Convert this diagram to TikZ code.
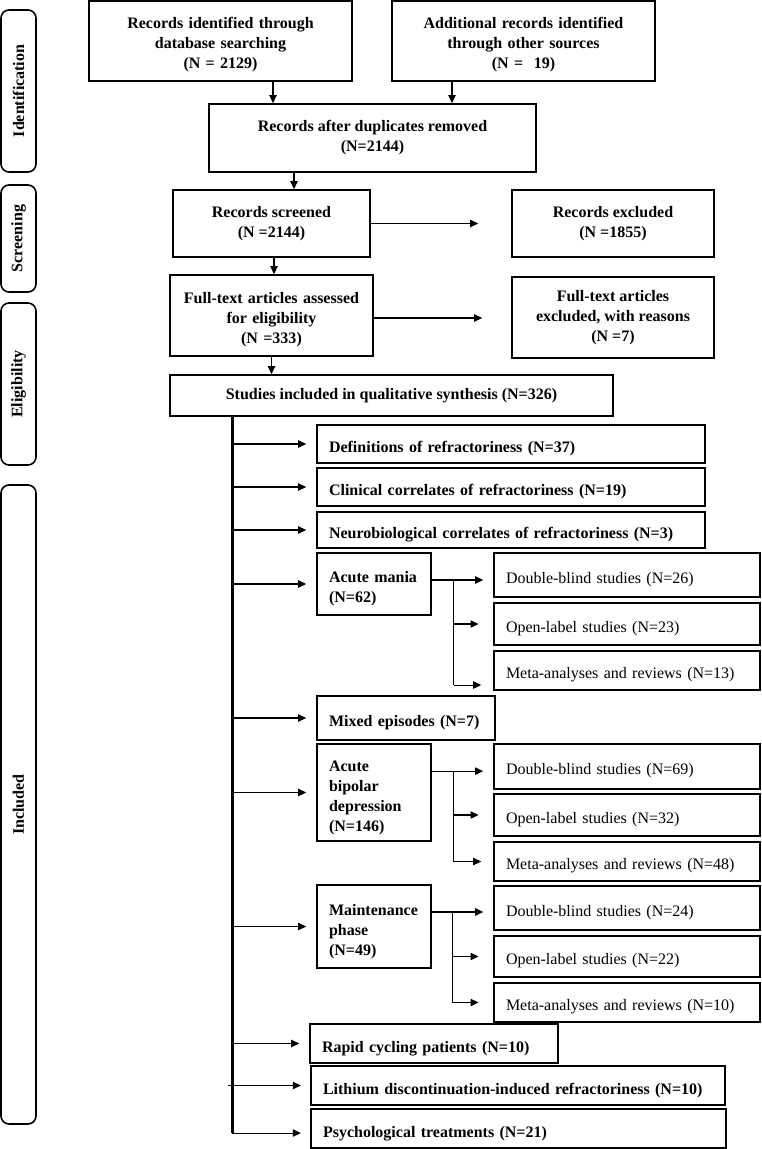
\documentclass[tikz,border=0pt]{standalone}
\usepackage{fontspec}
\setmainfont{Liberation Serif}
\usetikzlibrary{arrows.meta,calc}
\begin{document}
\begin{tikzpicture}[x=0.75pt,y=-0.75pt,
 hb/.style n args={2}{draw,line width=1.2pt,minimum width=#1,minimum height=#2,inner sep=0pt,align=center,font=\fontsize{12pt}{15pt}\selectfont\bfseries},
 lb/.style n args={3}{draw,line width=1.2pt,minimum width=#1,minimum height=#2,text width=#3,inner xsep=9pt,inner ysep=0pt,align=left,font=\fontsize{12pt}{15pt}\selectfont\bfseries,execute at begin node={\rule{0pt}{15.5pt}}},
 sb/.style={draw,line width=1.2pt,minimum width=199.5pt,text width=181.5pt,inner xsep=9pt,inner ysep=0pt,align=left,font=\fontsize{12pt}{15pt}\selectfont,execute at begin node={\rule{0pt}{15pt}}},
 side/.style={draw,line width=1.2pt,rounded corners=6pt,rotate=90,minimum width=#1,minimum height=26.25pt,inner sep=0pt,font=\fontsize{12pt}{15pt}\selectfont\bfseries},
 lower/.style={text width=#1,execute at begin node={\rule{0pt}{14.5pt}}},
 arr/.style={line width=0.8pt,-{Triangle[length=6pt,width=5.5pt]}},
 ln/.style={line width=0.8pt},
 trunk/.style={line width=2.25pt}]
\useasboundingbox (0,0) rectangle (762,1149);

% side labels
\node[side=121.5pt] (sid) at (18.5,91) {Identification};
\node[side=80.25pt] (sscr) at (18.5,238.5) {Screening};
\node[side=121.5pt] (selig) at (18.5,384) {Eligibility};
\node[side=479.25pt] (sinc) at (18.5,804.5) {Included};

% header boxes
\node[hb={197.25pt}{60pt},lower=197.25pt] (db) at (220.5,41) {Records identified through\\database searching\\(N = 2129)};
\node[hb={197.25pt}{60pt},lower=197.25pt] (other) at (523.5,41) {Additional records identified\\through other sources\\(N = \ 19)};
\node[hb={245.25pt}{51pt}] (dup) at (372.5,138) {Records after duplicates removed\\(N=2144)};
\node[hb={147.75pt}{50.25pt}] (scr) at (271.5,223.5) {Records screened\\(N =2144)};
\node[hb={151.5pt}{50.25pt}] (excl) at (613,223.5) {Records excluded\\(N =1855)};
\node[hb={152.25pt}{60.75pt},lower=152.25pt] (ft) at (271.5,315.5) {Full-text articles assessed\\for eligibility\\(N =333)};
\node[hb={151.5pt}{60.75pt}] (fte) at (613,317.5) {Full-text articles\\excluded, with reasons\\(N =7)};
\node[hb={332.25pt}{30.75pt}] (stud) at (391.5,395.5) {Studies included in qualitative synthesis (N=326)};

% branch boxes
\node[lb={291pt}{28.5pt}{273pt}] (def) at (511,444) {\mbox{Definitions of refractoriness (N=37)}};
\node[lb={291pt}{28.5pt}{273pt}] (clin) at (511,487) {\mbox{Clinical correlates of refractoriness (N=19)}};
\node[lb={291pt}{27pt}{273pt}] (neuro) at (511,530) {\mbox{Neurobiological correlates of refractoriness (N=3)}};
\node[lb={85.5pt}{46.5pt}{67.5pt}] (mania) at (374,584) {\mbox{Acute mania}\\\mbox{(N=62)}};
\node[lb={133.5pt}{33pt}{115.5pt}] (mixed) at (406,718) {\mbox{Mixed episodes (N=7)}};
\node[lb={85.5pt}{72.75pt}{67.5pt}] (bip) at (374,792.5) {\mbox{Acute}\\\mbox{bipolar}\\\mbox{depression}\\\mbox{(N=146)}};
\node[lb={85.5pt}{62.25pt}{67.5pt}] (maint) at (374,926.5) {\mbox{Maintenance}\\\mbox{phase}\\\mbox{(N=49)}};
\node[lb={186pt}{29.25pt}{168pt}] (rapid) at (434,1043.5) {\mbox{Rapid cycling patients (N=10)}};
\node[lb={310.5pt}{29.25pt}{292.5pt}] (lith) at (518,1085.5) {\mbox{Lithium discontinuation-induced refractoriness (N=10)}};
\node[lb={311.25pt}{29.25pt}{293.25pt}] (psych) at (518.5,1128.5) {\mbox{Psychological treatments (N=21)}};

% sub boxes
\node[sb,minimum height=33pt] (db26) at (627,575) {\mbox{Double-blind studies (N=26)}};
\node[sb,minimum height=31.5pt] (ol23) at (627,624) {\mbox{Open-label studies (N=23)}};
\node[sb,minimum height=29.25pt] (ma13) at (627,670.5) {\mbox{Meta-analyses and reviews (N=13)}};
\node[sb,minimum height=33.75pt] (db69) at (627,766.5) {\mbox{Double-blind studies (N=69)}};
\node[sb,minimum height=31.5pt] (ol32) at (627,815) {\mbox{Open-label studies (N=32)}};
\node[sb,minimum height=29.25pt] (ma48) at (627,861.5) {\mbox{Meta-analyses and reviews (N=48)}};
\node[sb,minimum height=33pt] (db24) at (627,908) {\mbox{Double-blind studies (N=24)}};
\node[sb,minimum height=30.75pt] (ol22) at (627,956.5) {\mbox{Open-label studies (N=22)}};
\node[sb,minimum height=29.25pt] (ma10) at (627,1002.5) {\mbox{Meta-analyses and reviews (N=10)}};

% top connectors
\draw[arr] ($(db.south)+(52.5,0)$) coordinate (a1) -- (a1 |- dup.north);
\draw[arr] ($(other.south)+(-71.5,0)$) coordinate (a2) -- (a2 |- dup.north);
\draw[arr] ($(dup.south)+(-78.5,0)$) coordinate (a3) -- (a3 |- scr.north);
\draw[arr] ($(scr.south)+(2.5,0)$) coordinate (a4) -- (a4 |- ft.north);
\draw[arr,shorten >=24.75pt] (scr.east) -- (scr.east -| excl.west);
\draw[arr,shorten >=21.75pt] ($(ft.east)+(0,2.5)$) coordinate (a5) -- (a5 -| fte.west);
\draw[arr] (ft.south) -- (ft.south |- stud.north);

% trunk
\coordinate (tk) at ($(stud.south)+(-159.5,0)$);
\coordinate (pw) at ([yshift=-3.4pt]psych.west);
\draw[trunk] (tk) -- (tk |- pw);
\foreach \n in {def,clin,neuro,mania,mixed,bip,maint,rapid}
  \draw[arr,shorten >=7.5pt] (tk |- \n.west) -- (\n.west);
\draw[arr,shorten >=7pt] ($(tk |- lith.west)+(-4,0)$) -- (lith.west);
\draw[arr,shorten >=7pt] (tk |- pw) -- (pw);

% acute mania sub-branches
\coordinate (m1) at ([yshift=3pt]mania.east);
\coordinate (mv) at ($(m1)+(22,0)$);
\coordinate (m3) at ([yshift=-10.9pt]ma13.west);
\draw[arr,shorten >=7.5pt] (m1) -- (m1 -| db26.west);
\draw[ln] (mv) -- (mv |- m3);
\draw[arr,shorten >=11pt] (mv |- ol23.west) -- (ol23.west);
\draw[arr,shorten >=9pt] (mv |- m3) -- (m3);

% bipolar depression sub-branches
\coordinate (b1) at ([yshift=16pt]bip.east);
\coordinate (bv) at ($(b1)+(22,0)$);
\draw[arr,shorten >=7.5pt] (b1) -- (b1 -| db69.west);
\draw[ln] (bv) -- (bv |- ma48.west);
\draw[arr,shorten >=11pt] (bv |- ol32.west) -- (ol32.west);
\draw[arr,shorten >=9pt] (bv |- ma48.west) -- (ma48.west);

% maintenance sub-branches
\coordinate (c1) at ([yshift=10.9pt]maint.east);
\coordinate (cv) at ($(c1)+(21,0)$);
\draw[arr,shorten >=7.5pt] (c1) -- (c1 -| db24.west);
\draw[ln] (cv) -- (cv |- ma10.west);
\draw[arr,shorten >=11pt] (cv |- ol22.west) -- (ol22.west);
\draw[arr,shorten >=11pt] (cv |- ma10.west) -- (ma10.west);
\end{tikzpicture}
\end{document}
